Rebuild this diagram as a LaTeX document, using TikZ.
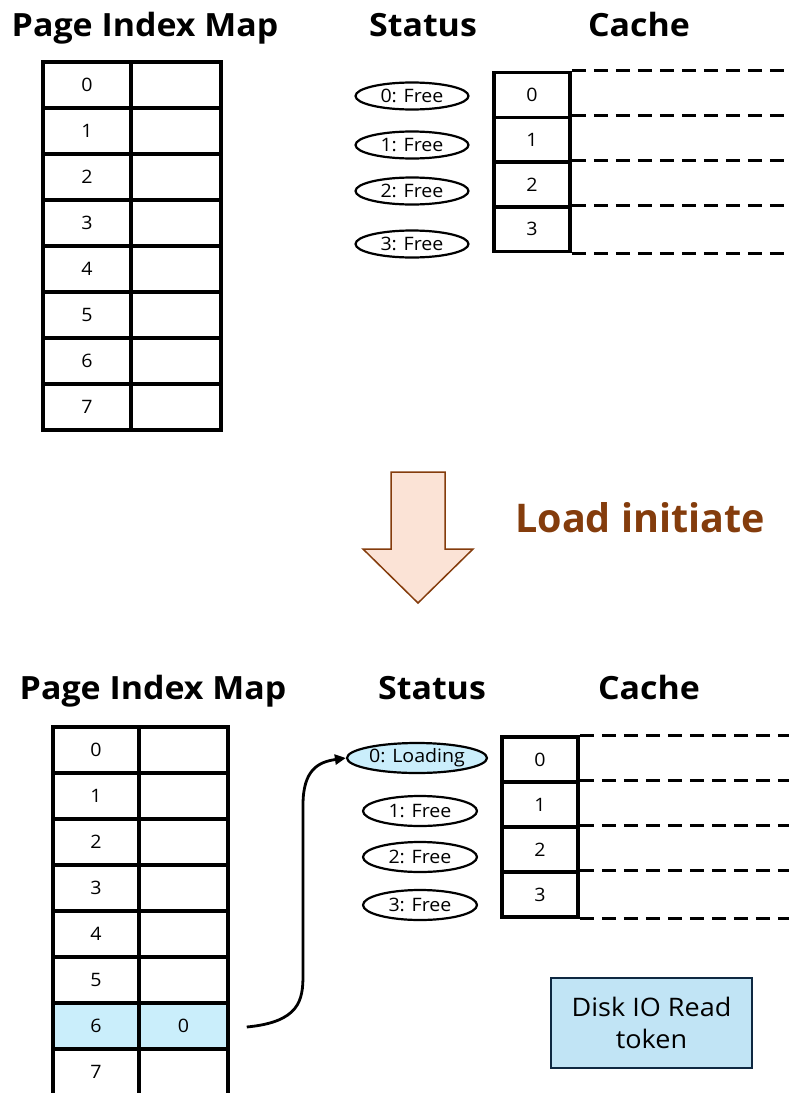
\documentclass[tikz,border=0pt]{standalone}
\usepackage{fontspec}
\setmainfont{Open Sans}
\newfontfamily\tfont[FakeStretch=1.06]{Open Sans}
\newfontfamily\sfontx[FakeStretch=1.06]{Open Sans}
\usetikzlibrary{shapes.geometric,arrows.meta,calc}
\definecolor{brownc}{HTML}{843C0C}
\definecolor{peach}{HTML}{FBE3D6}
\definecolor{lblue}{HTML}{CAEEFB}
\definecolor{boxblue}{HTML}{C1E4F5}
\definecolor{navy}{HTML}{0E2841}
\tikzset{
  title/.style={font=\tfont\fontsize{32}{36}\selectfont\bfseries, anchor=base, inner sep=0},
  small/.style={font=\sfontx\fontsize{18.5}{20}\selectfont},
  cellA/.style={draw, line width=3.5pt, minimum width=88pt, minimum height=46pt, inner sep=0, small},
  cellB/.style={draw, line width=3.5pt, minimum width=90pt, minimum height=46pt, inner sep=0},
  cache/.style={draw, line width=3.5pt, minimum width=76pt, minimum height=45pt, inner sep=0, small},
  stat/.style={draw, ellipse, line width=2.2pt, minimum width=113pt, minimum height=27pt, inner sep=0, small},
  dline/.style={line width=3pt, dash pattern=on 14pt off 8pt},
}
\begin{document}
\begin{tikzpicture}[x=1pt,y=-1pt]
\useasboundingbox (0,0) rectangle (788,1093);
% ---------- top ----------
\node[title] (t1) at (145,36) {Page Index Map};
\node[title] (t2) at (423,36) {Status};
\node[title] (t3) at (639,36) {Cache};
\foreach \i in {0,...,7}{
  \node[cellA] (a\i) at (87,{85+46*\i}) {\i};
  \node[cellB] (b\i) at (176,{85+46*\i}) {};
}
\node[stat] (s0) at (412,96) {0: Free};
\node[stat] (s1) at (412,145) {1: Free};
\node[stat] (s2) at (412,191) {2: Free};
\node[stat] (s3) at (412,244) {3: Free};
\foreach \i/\y in {0/95,1/139.75,2/184.5,3/229.25}{
  \node[cache, minimum height=44.75pt] (c\i) at (532,\y) {\i};
}
\foreach \i in {0,...,3}{
  \draw[dline] (c\i.north east) -- +(220,0);
}
\draw[dline] (c3.south east) -- +(220,0);
% ---------- transition arrow ----------
\draw[brownc, fill=peach, line width=1.5pt, line join=miter]
  (391,472) -- (445,472) -- (445,549) -- (473,549) -- (418,603) -- (363,549) -- (391,549) -- cycle;
\node[font=\fontsize{39.5}{44}\selectfont\bfseries, text=brownc, inner sep=0] (load) at (640,518) {Load initiate};
% ---------- bottom ----------
\node[title] (u1) at (153,699) {Page Index Map};
\node[title] (u2) at (432,699) {Status};
\node[title] (u3) at (649,699) {Cache};
\foreach \i in {0,...,7}{
  \node[cellA, minimum width=86pt] (d\i) at (96,{750+46*\i}) {\i};
  \node[cellB, minimum width=89pt] (e\i) at (183.5,{750+46*\i}) {};
}
\node[cellA, minimum width=86pt, fill=lblue] (d6) at (96,1026) {6};
\node[cellA, minimum width=89pt, fill=lblue] (e6) at (183.5,1026) {0};
\node[stat, fill=lblue, minimum width=140pt, minimum height=30pt] (v0) at (417,758) {0: Loading};
\node[stat, minimum width=114pt, minimum height=30pt] (v1) at (420,811) {1: Free};
\node[stat, minimum width=114pt, minimum height=30pt] (v2) at (420,857) {2: Free};
\node[stat, minimum width=114pt, minimum height=30pt] (v3) at (420,905) {3: Free};
\foreach \i/\y in {0/759.5,1/804.5,2/849.5,3/894.5}{
  \node[cache] (k\i) at (540,\y) {\i};
}
\foreach \i in {0,...,3}{
  \draw[dline] (k\i.north east) -- +(212,0);
}
\draw[dline] (k3.south east) -- +(212,0);
\node[draw=navy, fill=boxblue, line width=2pt, minimum width=201pt, minimum height=90pt, align=center,
      font=\sfontx\fontsize{25.5}{32}\selectfont, inner sep=0] (disk) at (651.5,1023) {Disk IO Read\\token};
% ---------- curved connector ----------
\coordinate (src) at ($(e6.east)+(17,1)$);
\draw[line width=2.8pt, -{Triangle[length=11pt,width=10pt]}]
  (src) .. controls +(53,-5) and (303,1000) .. (303,975)
  -- (303,805) .. controls (303,770) and (318,762) .. (v0.west);
\end{tikzpicture}
\end{document}
